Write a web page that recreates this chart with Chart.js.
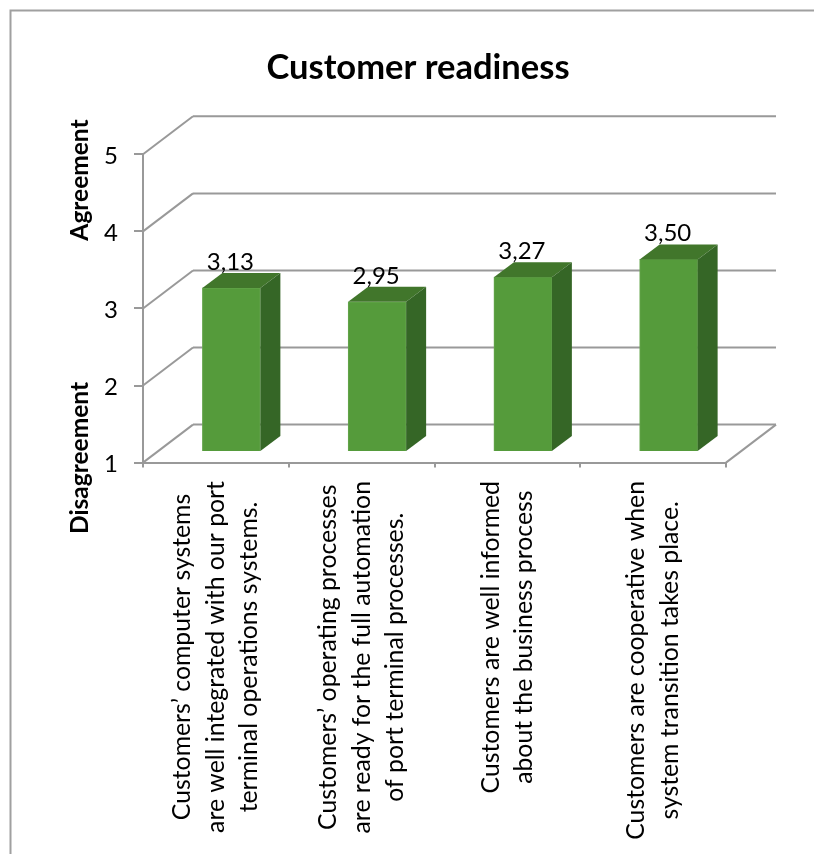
<!DOCTYPE html>
<html>
<head>
<meta charset="utf-8">
<title>Customer readiness</title>
<script src="https://cdn.jsdelivr.net/npm/chart.js@4"></script>
<style>
    html, body { margin: 0; padding: 0; background: #fff; overflow: hidden; }
    canvas { display: block; }
</style>
</head>
<body>
<canvas id="myChart" width="814" height="854"></canvas>
<script>
const chartTitle = "Customer readiness";
const categories = [
    ["Customers’ computer systems", "are well integrated with our port", "terminal operations systems."],
    ["Customers’ operating processes", "are ready for the full automation", "of port terminal processes."],
    ["Customers are well informed", "about the business process"],
    ["Customers are cooperative when", "system transition takes place."],
];
const values = [3.13, 2.95, 3.27, 3.50];
const valueTicks = [1, 2, 3, 4, 5];

const FONT = "Lato, 'Open Sans', sans-serif";
const LINE_GRAY = "#999999";

// depth of the fake 3D box, in pixels
const wallDx = 50, wallDy = -38;
const barShiftX = 15.5, barShiftY = -10.5;
const barDx = 20, barDy = -15;

function line(ctx, x1, y1, x2, y2) {
    ctx.beginPath();
    ctx.moveTo(x1, y1);
    ctx.lineTo(x2, y2);
    ctx.stroke();
}

function poly(ctx, pts, color) {
    ctx.fillStyle = color;
    ctx.beginPath();
    pts.forEach(function (p, i) {
        if (i === 0) ctx.moveTo(p[0], p[1]);
        else ctx.lineTo(p[0], p[1]);
    });
    ctx.closePath();
    ctx.fill();
}

const box3d = {
    id: "box3d",
    beforeDraw(chart) {
        const ctx = chart.ctx;
        // outer frame, runs off the right and bottom of the picture
        ctx.save();
        ctx.strokeStyle = "#a0a0a0";
        ctx.lineWidth = 2;
        ctx.beginPath();
        ctx.moveTo(10.5, 854);
        ctx.lineTo(10.5, 10.5);
        ctx.lineTo(814, 10.5);
        ctx.stroke();
        ctx.restore();
    },
    beforeDatasetsDraw(chart) {
        const ctx = chart.ctx;
        const area = chart.chartArea;
        const yScale = chart.scales.y;
        ctx.save();
        ctx.strokeStyle = LINE_GRAY;
        ctx.lineWidth = 2;
        valueTicks.forEach(function (v) {
            const y = yScale.getPixelForValue(v);
            line(ctx, area.left, y, area.left + wallDx, y + wallDy);
            line(ctx, area.left + wallDx, y + wallDy, area.right + wallDx, y + wallDy);
        });
        // right edge of the floor
        line(ctx, area.right, area.bottom, area.right + wallDx, area.bottom + wallDy);
        ctx.restore();

        // bars sit inside the box, so shift them while the library draws them
        ctx.save();
        ctx.translate(barShiftX, barShiftY);
    },
    afterDatasetsDraw(chart) {
        const ctx = chart.ctx;
        chart.getDatasetMeta(0).data.forEach(function (bar) {
            const l = bar.x - bar.width / 2;
            const r = bar.x + bar.width / 2;
            const t = bar.y;
            const b = bar.base;
            poly(ctx, [[l, t], [l + barDx, t + barDy], [r + barDx, t + barDy], [r, t]], "#41762b");
            poly(ctx, [[r, t], [r + barDx, t + barDy], [r + barDx, b + barDy], [r, b]], "#356626");
        });
        ctx.restore();
    },
    afterDraw(chart) {
        const ctx = chart.ctx;
        const xScale = chart.scales.x;
        ctx.save();
        ctx.fillStyle = "#000";

        // title
        ctx.textAlign = "center";
        ctx.textBaseline = "alphabetic";
        ctx.font = "bold 34.5px " + FONT;
        ctx.fillText(chartTitle, 418, 79);

        // value labels
        ctx.font = "24px " + FONT;
        chart.getDatasetMeta(0).data.forEach(function (bar, i) {
            ctx.fillText(values[i].toFixed(2).replace(".", ","), bar.x + barShiftX - 1, bar.y + barShiftY - 18);
        });

        // category labels, rotated with centred lines
        ctx.font = "24.8px " + FONT;
        categories.forEach(function (lines, i) {
            const cx = xScale.getPixelForTick(i);
            const top = 481;
            const lineGap = 33.5;
            let longest = 0;
            lines.forEach(function (s) { longest = Math.max(longest, ctx.measureText(s).width); });
            ctx.textBaseline = "middle";
            lines.forEach(function (s, j) {
                ctx.save();
                ctx.translate(cx + (j - (lines.length - 1) / 2) * lineGap, top + longest / 2);
                ctx.rotate(-Math.PI / 2);
                ctx.fillText(s, 0, 0);
                ctx.restore();
            });
        });

        // two end labels on the value axis
        ctx.font = "bold 24.5px " + FONT;
        [["Agreement", 180], ["Disagreement", 458]].forEach(function (item) {
            ctx.save();
            ctx.translate(80, item[1]);
            ctx.rotate(-Math.PI / 2);
            ctx.fillText(item[0], 0, 0);
            ctx.restore();
        });
        ctx.restore();
    },
};

const config = {
    type: "bar",
    data: {
        labels: categories,
        datasets: [
            {
                label: chartTitle,
                data: values,
                base: 1,
                backgroundColor: "#559b3b",
                borderColor: "#66a64e",
                borderWidth: 1,
                barThickness: 58,
            },
        ],
    },
    options: {
        responsive: false,
        animation: false,
        layout: { padding: { top: 154.3, right: 88, bottom: 386.4, left: 0 } },
        plugins: {
            legend: { display: false },
            title: { display: false },
            tooltip: { enabled: false },
        },
        scales: {
            x: {
                grid: { drawOnChartArea: false, drawTicks: true, tickLength: 5, color: LINE_GRAY, lineWidth: 2, offset: true },
                border: { color: LINE_GRAY, width: 2 },
                ticks: { display: false },
                afterFit(scale) { scale.height = 5; },
            },
            y: {
                min: 1,
                max: 5,
                grid: { drawOnChartArea: false, drawTicks: true, tickLength: 9, color: LINE_GRAY, lineWidth: 2 },
                border: { color: LINE_GRAY, width: 2 },
                ticks: {
                    stepSize: 1,
                    padding: 16,
                    labelOffset: 2,
                    color: "#000",
                    font: { family: FONT, size: 24 },
                },
                afterFit(scale) { scale.width = 143; },
            },
        },
    },
    plugins: [box3d],
};

const myChart = new Chart(document.getElementById("myChart"), config);
</script>
</body>
</html>
